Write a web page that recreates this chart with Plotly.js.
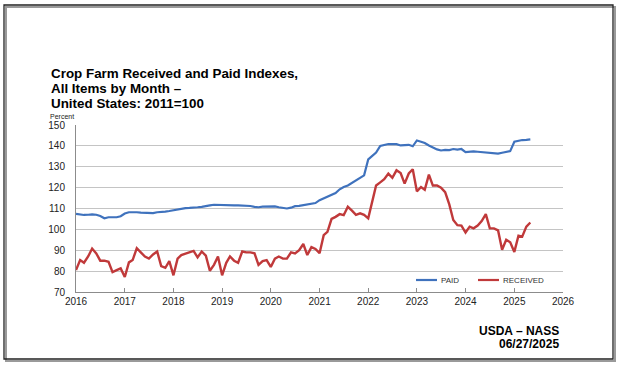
<!DOCTYPE html>
<html>
<head>
<meta charset="utf-8">
<script src="https://cdn.plot.ly/plotly-3.0.1.min.js"></script>
<style>
  html, body { margin: 0; padding: 0; background: #ffffff; }
  #chart { width: 622px; height: 366px; }
</style>
</head>
<body>
<div id="chart"></div>
<script>
// ---- Data (monthly, Jan 2016 through May 2025) ----
const startYear = 2016;
const startMonth = 1;

const paid = [
  107.4, 107.0, 106.9, 107.0, 107.2, 107.0, 106.4, 105.3, 105.8, 105.8, 105.8, 106.3,
  107.6, 108.2, 108.3, 108.2, 108.0, 107.9, 107.9, 107.8, 108.2, 108.2, 108.5, 108.8,
  109.2, 109.5, 110.0, 110.2, 110.3, 110.3, 110.6, 110.8, 111.0, 111.5, 111.8, 111.7,
  111.5, 111.5, 111.5, 111.5, 111.5, 111.4, 111.5, 111.2, 110.8, 110.6, 110.9, 111.0,
  110.8, 111.0, 110.6, 110.2, 110.0, 110.4, 111.1, 111.3, 111.6, 111.8, 112.1, 112.6,
  114.0, 114.9, 116.0, 116.8, 117.4, 119.2, 120.3, 121.0, 122.2, 123.4, 124.6, 125.9,
  133.5, 135.0, 136.8, 140.0, 140.5, 140.9, 140.8, 140.8, 140.2, 140.3, 140.5, 139.8,
  142.6, 142.0, 141.4, 140.2, 139.2, 138.3, 137.8, 138.1, 138.0, 138.5, 138.2, 138.5,
  137.0, 137.2, 137.4, 137.2, 137.0, 136.8, 136.7, 136.5, 136.3, 136.7, 137.0, 137.5,
  142.0, 142.6, 142.8, 142.9, 143.1
];

const received = [
  80.5, 85.3, 84.0, 87.0, 90.8, 88.5, 85.0, 85.0, 84.5, 79.5, 80.5, 81.3,
  77.2, 84.2, 85.3, 91.0, 89.0, 87.0, 86.0, 88.0, 89.4, 82.4, 81.6, 84.8,
  78.0, 86.0, 87.7, 88.5, 88.9, 89.7, 86.6, 89.4, 87.4, 80.2, 83.0, 87.0,
  78.0, 84.0, 87.0, 85.0, 84.0, 89.4, 89.0, 89.0, 88.5, 83.0, 84.8, 85.3,
  82.0, 86.0, 87.0, 86.0, 86.0, 89.0, 88.5, 90.0, 93.0, 87.7, 91.5, 90.6,
  88.6, 97.2, 98.8, 105.0, 106.0, 107.3, 106.8, 110.8, 109.0, 107.0, 107.7, 107.0,
  105.3, 113.5, 121.0, 122.5, 124.0, 126.7, 124.7, 128.3, 127.0, 121.9, 126.8, 128.8,
  118.2, 120.3, 119.0, 126.2, 121.0, 121.0, 120.0, 117.8, 112.0, 104.5, 102.0, 101.8,
  98.5, 101.3, 100.5, 101.8, 104.0, 107.3, 100.5, 100.5, 99.5, 90.2, 95.0, 93.8,
  89.2, 97.0, 96.5, 101.3, 103.3
];

const seriesNames = ['PAID', 'RECEIVED'];
const titleLines = ['Crop Farm Received and Paid Indexes,', 'All Items by Month \u2013', 'United States: 2011=100'];
const yTickVals = [70, 80, 90, 100, 110, 120, 130, 140, 150];
const xTickYears = [2016, 2017, 2018, 2019, 2020, 2021, 2022, 2023, 2024, 2025, 2026];

// month labels (categories) built from the start month
const months = [];
for (let i = 0; i < paid.length; i++) {
  const y = startYear + Math.floor((startMonth - 1 + i) / 12);
  const m = ((startMonth - 1 + i) % 12) + 1;
  months.push(y + '-' + String(m).padStart(2, '0') + '-01');
}

// ---- Layout helpers (pixel -> paper) ----
const W = 622, H = 366;
const M = { l: 76, r: 59, t: 125, b: 74 };
const PW = W - M.l - M.r, PH = H - M.t - M.b;
const px = x => (x - M.l) / PW;
const py = y => (H - M.b - y) / PH;

const BLUE = '#3f72bd';
const RED = '#c0393a';
const FONT = 'Liberation Sans, Arial, sans-serif';

const traces = [
  { x: months, y: paid, name: seriesNames[0], type: 'scatter', mode: 'lines',
    line: { color: BLUE, width: 2.2 }, hoverinfo: 'skip' },
  { x: months, y: received, name: seriesNames[1], type: 'scatter', mode: 'lines',
    line: { color: RED, width: 2.4 }, hoverinfo: 'skip' }
];

const annotations = [];
const titleY = [73, 88.5, 103.5];
titleLines.forEach((t, i) => {
  annotations.push({ xref: 'paper', yref: 'paper', x: px(49), y: py(titleY[i]),
    xanchor: 'left', yanchor: 'middle', showarrow: false, text: '<b>' + t + '</b>',
    font: { family: FONT, size: 13.4, color: '#000' } });
});
annotations.push({ xref: 'paper', yref: 'paper', x: px(49), y: py(116.5),
  xanchor: 'left', yanchor: 'middle', showarrow: false, text: 'Percent',
  font: { family: FONT, size: 7, color: '#222' }, borderpad: 0 });
annotations.push({ xref: 'paper', yref: 'paper', x: px(561), y: py(330.5),
  xanchor: 'right', yanchor: 'middle', showarrow: false, text: '<b>USDA \u2013 NASS</b>',
  font: { family: FONT, size: 12, color: '#000' } });
annotations.push({ xref: 'paper', yref: 'paper', x: px(561), y: py(343.5),
  xanchor: 'right', yanchor: 'middle', showarrow: false, text: '<b>06/27/2025</b>',
  font: { family: FONT, size: 12, color: '#000' } });
// legend labels
annotations.push({ xref: 'paper', yref: 'paper', x: px(438.5), y: py(280),
  xanchor: 'left', yanchor: 'middle', showarrow: false, text: seriesNames[0],
  font: { family: FONT, size: 8, color: '#333' } });
annotations.push({ xref: 'paper', yref: 'paper', x: px(500.5), y: py(280),
  xanchor: 'left', yanchor: 'middle', showarrow: false, text: seriesNames[1],
  font: { family: FONT, size: 8, color: '#333' } });

const shapes = [
  // drop shadow of frame
  { type: 'rect', xref: 'paper', yref: 'paper', x0: px(6), x1: px(615), y0: py(7), y1: py(361),
    line: { color: '#9a9a9a', width: 2 }, fillcolor: 'rgba(0,0,0,0)', layer: 'below' },
  // frame
  { type: 'rect', xref: 'paper', yref: 'paper', x0: px(4), x1: px(613), y0: py(5), y1: py(359),
    line: { color: '#222', width: 1.3 }, fillcolor: 'rgba(0,0,0,0)' },
  // legend samples
  { type: 'line', xref: 'paper', yref: 'paper', x0: px(416), x1: px(437), y0: py(280), y1: py(280),
    line: { color: BLUE, width: 2.2 } },
  { type: 'line', xref: 'paper', yref: 'paper', x0: px(478), x1: px(499), y0: py(280), y1: py(280),
    line: { color: RED, width: 2.2 } }
];

const layout = {
  width: W, height: H,
  margin: M,
  paper_bgcolor: '#ffffff', plot_bgcolor: '#ffffff',
  showlegend: false,
  font: { family: FONT, size: 10, color: '#222' },
  xaxis: {
    type: 'date',
    range: [xTickYears[0] + '-01-01', xTickYears[xTickYears.length - 1] + '-01-01'],
    tickvals: xTickYears.map(y => y + '-01-01'),
    ticktext: xTickYears.map(String),
    showgrid: false, zeroline: false,
    showline: true, linecolor: '#8c8c8c', linewidth: 1,
    ticks: 'inside', ticklen: 4, tickcolor: '#8c8c8c',
    tickfont: { family: FONT, size: 10, color: '#222' },
    fixedrange: true
  },
  yaxis: {
    range: [70, 150],
    tickvals: yTickVals,
    showgrid: true, gridcolor: '#c4c4c4', gridwidth: 1,
    zeroline: false,
    showline: true, linecolor: '#8c8c8c', linewidth: 1,
    ticks: '', ticklabelstandoff: 8,
    tickfont: { family: FONT, size: 10, color: '#222' },
    fixedrange: true
  },
  annotations: annotations,
  shapes: shapes
};

Plotly.newPlot('chart', traces, layout, { staticPlot: true, displayModeBar: false });
</script>
</body>
</html>
